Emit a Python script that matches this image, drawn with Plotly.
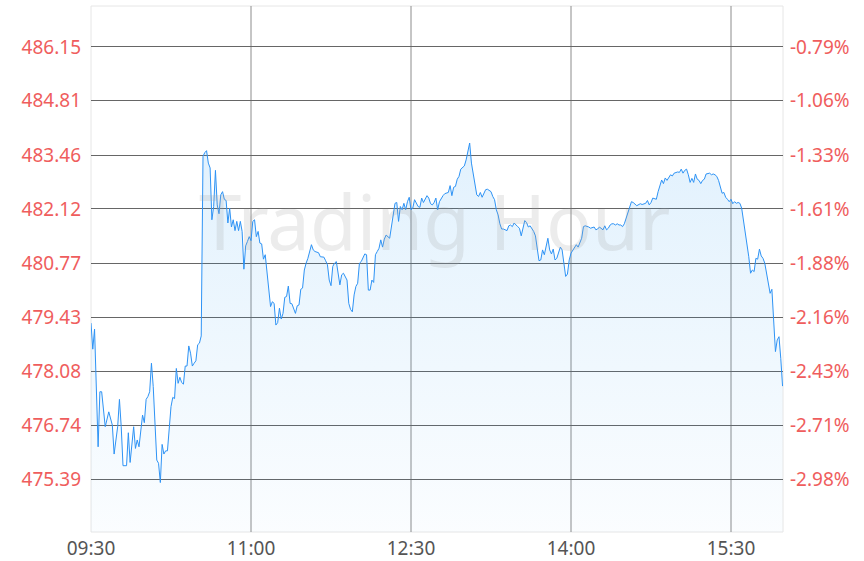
import plotly.graph_objects as go

# minutes after 09:30 and last price
minutes = [0, 1, 2, 4, 5, 6, 8, 10, 12, 13, 15, 16, 17, 18, 20, 21, 22, 24, 25, 26, 27, 29, 30, 31, 32, 33, 34, 35, 37, 38, 39,
           40, 41, 42, 43, 44, 45, 46, 47, 48, 49, 50, 51, 52, 53, 54, 55, 56, 57, 58, 59, 60, 61, 62, 63, 64, 65, 66, 67, 68, 69,
           70, 71, 72, 73, 74, 75, 76, 77, 78, 79, 80, 81, 82, 83, 84, 85, 86, 87, 88, 89, 90, 91, 92, 93, 94, 95, 96, 97, 98, 99,
           100, 101, 102, 103, 104, 105, 106, 107, 108, 109, 110, 111, 112, 113, 115, 116, 117, 118, 119, 120, 121, 122, 124, 125,
           126, 128, 129, 131, 132, 133, 134, 135, 136, 137, 138, 139, 140, 141, 142, 144, 145, 146, 147, 148, 149, 150, 151, 152,
           153, 154, 155, 156, 157, 158, 159, 160, 161, 162, 163, 164, 165, 166, 168, 169, 170, 171, 172, 173, 174, 175, 176, 177,
           178, 179, 180, 181, 182, 183, 184, 185, 186, 187, 189, 190, 191, 192, 193, 194, 195, 196, 197, 198, 199, 201, 202, 203,
           204, 205, 206, 207, 208, 209, 210, 211, 212, 213, 214, 215, 216, 217, 218, 219, 220, 221, 222, 223, 225, 226, 227, 228,
           229, 230, 231, 232, 234, 235, 236, 237, 238, 240, 241, 242, 243, 244, 245, 246, 247, 249, 250, 251, 252, 253, 254, 255,
           256, 257, 258, 259, 260, 261, 262, 264, 265, 266, 267, 268, 269, 270, 271, 273, 274, 275, 276, 277, 278, 280, 281, 283,
           284, 285, 286, 288, 289, 290, 291, 292, 293, 294, 295, 296, 297, 298, 299, 300, 301, 302, 303, 304, 305, 307, 309, 310,
           312, 313, 314, 315, 316, 318, 319, 320, 321, 322, 323, 324, 325, 326, 327, 328, 330, 331, 332, 333, 334, 335, 336, 337,
           338, 339, 340, 341, 342, 343, 344, 345, 346, 348, 349, 350, 351, 352, 353, 354, 355, 356, 357, 358, 359, 360, 361, 362,
           363, 364, 365, 366, 367, 368, 369, 370, 371, 372, 373, 374, 375, 376, 377, 378, 379, 380, 381, 382, 383, 384, 385, 386,
           387, 388, 389]

prices = [479.28, 478.63, 479.13, 476.20, 477.57, 477.57, 476.70, 477.07, 476.74, 476.02, 476.70, 477.38, 476.70, 475.73, 475.73,
          476.55, 475.81, 476.70, 476.16, 476.37, 476.20, 476.99, 476.80, 477.38, 477.45, 477.57, 478.28, 477.70, 475.87, 475.79,
          475.31, 476.26, 476.02, 476.10, 476.10, 476.70, 477.20, 477.43, 477.40, 478.15, 477.78, 477.93, 477.80, 477.76, 478.21,
          478.21, 478.71, 478.53, 478.21, 478.28, 478.34, 478.74, 478.78, 478.96, 483.43, 483.52, 483.57, 483.26, 483.14, 481.85,
          482.18, 483.08, 482.22, 482.00, 482.47, 482.55, 482.36, 482.33, 481.77, 482.14, 481.67, 481.85, 481.58, 481.81, 481.58,
          481.81, 481.56, 480.62, 481.20, 481.31, 481.43, 481.33, 481.81, 481.85, 481.43, 481.56, 481.27, 481.25, 480.87, 480.98,
          480.60, 480.19, 479.69, 479.81, 479.77, 479.23, 479.29, 479.65, 479.38, 479.52, 479.92, 479.94, 480.20, 479.77, 479.76,
          479.52, 479.71, 479.73, 480.12, 480.15, 480.60, 480.77, 480.89, 481.23, 481.10, 481.06, 481.03, 480.93, 480.92, 480.83,
          480.73, 480.35, 480.21, 480.69, 480.77, 480.81, 480.52, 480.23, 480.48, 480.52, 480.35, 479.77, 479.62, 479.56, 479.98,
          480.19, 480.27, 480.77, 480.81, 480.93, 481.00, 480.98, 480.10, 480.10, 480.35, 480.29, 480.98, 481.06, 481.14, 481.35,
          481.17, 481.37, 481.47, 481.39, 481.70, 481.97, 482.26, 482.28, 481.81, 482.18, 482.10, 482.26, 482.10, 482.30, 482.41,
          482.10, 482.14, 482.35, 482.25, 482.18, 482.16, 482.39, 482.28, 482.45, 482.39, 482.25, 482.22, 482.28, 482.39, 482.10,
          482.30, 482.39, 482.45, 482.50, 482.53, 482.70, 482.45, 482.66, 482.68, 482.86, 482.93, 483.11, 483.16, 483.19, 483.34,
          483.52, 483.76, 483.26, 483.01, 482.75, 482.47, 482.43, 482.53, 482.41, 482.53, 482.60, 482.61, 482.55, 482.43, 482.35,
          482.10, 481.97, 481.75, 481.62, 481.62, 481.58, 481.70, 481.72, 481.68, 481.77, 481.68, 481.64, 481.45, 481.68, 481.83,
          481.78, 481.67, 481.70, 481.56, 481.45, 481.14, 480.83, 480.85, 481.10, 480.98, 481.23, 481.39, 481.10, 481.00, 481.12,
          480.85, 480.89, 481.17, 481.10, 480.77, 480.44, 480.50, 480.85, 481.02, 481.10, 481.23, 481.17, 481.27, 481.39, 481.68,
          481.70, 481.67, 481.64, 481.67, 481.60, 481.62, 481.67, 481.60, 481.70, 481.60, 481.64, 481.72, 481.75, 481.75, 481.72,
          481.75, 481.72, 481.72, 481.68, 481.75, 481.89, 482.06, 482.22, 482.30, 482.28, 482.20, 482.25, 482.23, 482.26, 482.33,
          482.22, 482.28, 482.39, 482.36, 482.55, 482.72, 482.84, 482.75, 482.89, 482.83, 482.89, 482.97, 482.94, 483.01, 483.04,
          483.03, 483.11, 483.01, 483.08, 483.11, 482.97, 482.78, 482.88, 482.78, 482.99, 482.86, 482.83, 482.75, 482.83, 482.86,
          482.99, 483.01, 482.97, 482.99, 482.97, 482.93, 482.83, 482.68, 482.51, 482.53, 482.41, 482.36, 482.30, 482.36, 482.25,
          482.30, 482.26, 482.28, 482.26, 482.14, 481.85, 481.47, 481.27, 480.93, 480.52, 480.60, 480.56, 480.89, 480.87, 481.12,
          480.95, 480.89, 480.77, 480.52, 480.17, 480.02, 480.12, 479.44, 478.57, 478.86, 478.94, 478.40, 477.71]

time_tick_minutes = [0, 90, 180, 270, 360]
time_tick_labels = ["09:30", "11:00", "12:30", "14:00", "15:30"]

price_ticks = [486.15, 484.81, 483.46, 482.12, 480.77, 479.43, 478.08, 476.74, 475.39]
price_tick_labels = ["486.15", "484.81", "483.46", "482.12", "480.77", "479.43", "478.08", "476.74", "475.39"]
pct_tick_labels = ["-0.79%", "-1.06%", "-1.33%", "-1.61%", "-1.88%", "-2.16%", "-2.43%", "-2.71%", "-2.98%"]

y_range = [474.08, 487.17]
x_range = [0, 389.25]

RED = "#ef5d5d"
FONT = "Noto Sans, Open Sans, sans-serif"

fig = go.Figure()
fig.add_trace(go.Scatter(
    x=minutes, y=prices, mode="lines",
    line=dict(color="#2e93f5", width=1),
    fill="tozeroy",
    fillgradient=dict(type="vertical",
                      colorscale=[[0, "rgba(30,150,240,0.02)"], [1, "rgba(30,150,240,0.13)"]],
                      start=y_range[0], stop=max(prices)),
    hoverinfo="skip", showlegend=False,
))
fig.add_trace(go.Scatter(
    x=minutes, y=prices, yaxis="y2", mode="lines",
    line=dict(width=0, color="rgba(0,0,0,0)"), hoverinfo="skip", showlegend=False,
))

shapes = [dict(type="rect", xref="paper", yref="paper", x0=0, x1=1, y0=0, y1=1,
               line=dict(color="#e6e6e6", width=1), layer="below")]
for m in time_tick_minutes[1:]:
    shapes.append(dict(type="line", xref="x", yref="paper", x0=m, x1=m, y0=0, y1=1,
                       line=dict(color="#8c8c8c", width=1), layer="below"))

fig.update_layout(
    width=864, height=561,
    margin=dict(l=91, r=81, t=6, b=29, autoexpand=False),
    paper_bgcolor="white", plot_bgcolor="white",
    font=dict(family=FONT),
    shapes=shapes,
    xaxis=dict(range=x_range, tickvals=time_tick_minutes, ticktext=time_tick_labels,
               showgrid=False, zeroline=False, showline=False, ticks="", automargin=False,
               ticklabelstandoff=3,
               tickfont=dict(size=19, color="#555555"), fixedrange=True),
    yaxis=dict(range=y_range, tickvals=price_ticks, ticktext=price_tick_labels,
               showgrid=True, gridcolor="#666666", gridwidth=1, zeroline=False, showline=False,
               ticks="", automargin=False, ticklabelstandoff=9,
               tickfont=dict(size=19, color=RED), fixedrange=True),
    yaxis2=dict(range=y_range, tickvals=price_ticks, ticktext=pct_tick_labels, overlaying="y",
                side="right", showgrid=False, zeroline=False, showline=False, ticks="",
                automargin=False, ticklabelstandoff=6,
                tickfont=dict(size=19, color=RED), fixedrange=True),
    annotations=[dict(text="Trading Hour", xref="paper", yref="paper", x=0.497, y=0.593,
                      showarrow=False, font=dict(size=76, color="rgba(160,160,160,0.2)", family=FONT))],
)

fig.write_html("out.html", config={"displayModeBar": False},
               post_script="document.body.style.margin='0px';document.body.style.padding='0px';")
